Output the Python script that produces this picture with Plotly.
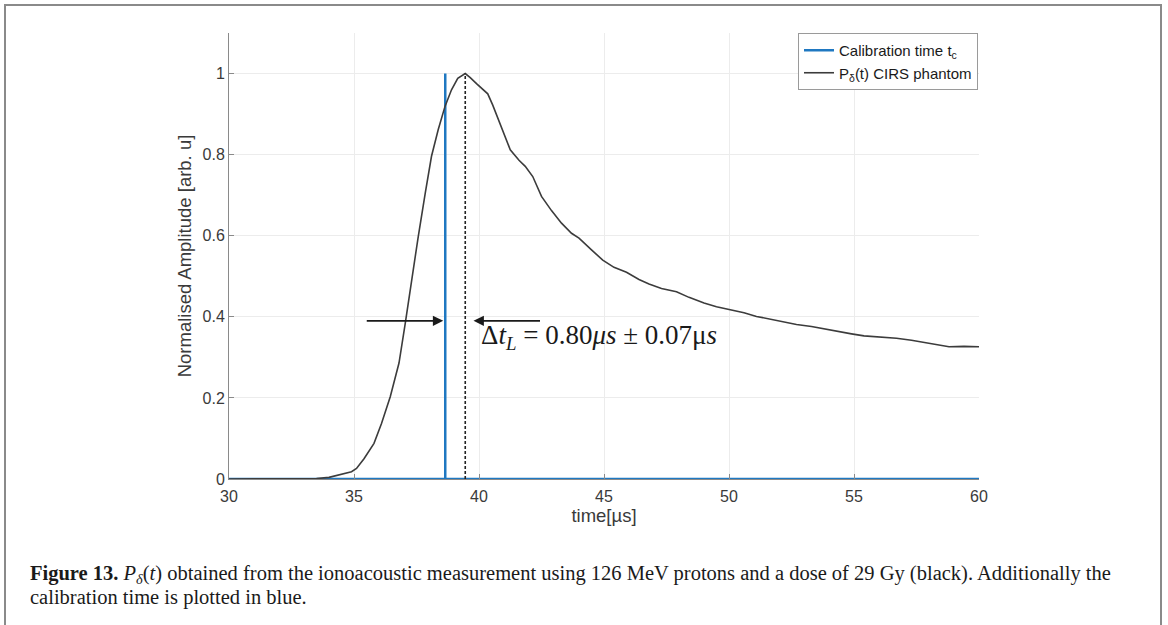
import plotly.graph_objects as go

# ---------------- data ----------------
time_us = [30, 31, 32, 33, 33.5, 34.0, 34.4, 34.9, 35.1, 35.4, 35.8, 36.1, 36.45, 36.8,
           37.05, 37.3, 37.57, 37.85, 38.1, 38.37, 38.64, 38.9, 39.15, 39.45, 39.65,
           39.9, 40.15, 40.35, 40.55, 40.9, 41.25, 41.6, 41.85, 42.15, 42.5, 42.9,
           43.3, 43.7, 44.0, 44.5, 44.95, 45.4, 45.9, 46.4, 46.8, 47.3, 47.9, 48.4,
           49.0, 49.5, 50.0, 50.6, 51.1, 51.7, 52.2, 52.7, 53.3, 53.8, 54.3, 54.9,
           55.4, 56.0, 56.7, 57.3, 57.8, 58.3, 58.8, 59.4, 60.0]
p_delta = [0, 0, 0, 0, 0.001, 0.004, 0.010, 0.018, 0.026, 0.050, 0.088, 0.137, 0.203, 0.286,
           0.384, 0.491, 0.598, 0.705, 0.796, 0.862, 0.919, 0.960, 0.988, 1.000, 0.990,
           0.975, 0.960, 0.950, 0.922, 0.865, 0.812, 0.786, 0.771, 0.746, 0.697, 0.662,
           0.631, 0.606, 0.594, 0.565, 0.540, 0.522, 0.510, 0.492, 0.481, 0.470, 0.462, 0.448,
           0.434, 0.425, 0.419, 0.410, 0.401, 0.394, 0.388, 0.381, 0.376, 0.370, 0.364, 0.358,
           0.353, 0.350, 0.347, 0.342, 0.337, 0.331, 0.326, 0.327, 0.326]

calib_time = 38.65          # t_c
calib_x = [30, calib_time, calib_time, calib_time, 60]
calib_y = [0, 0, 1, 0, 0]

peak_time = 39.45
peak_amp = 1.0
arrow_y = 0.39
delta_text = "Δ<i>t<sub>L</sub></i> = 0.80<i>μs</i> ± 0.07μ<i>s</i>"

x_ticks = [30, 35, 40, 45, 50, 55, 60]
y_ticks = [0, 0.2, 0.4, 0.6, 0.8, 1]
y_tick_labels = ["0", "0.2", "0.4", "0.6", "0.8", "1"]

caption_1 = ("<b>Figure 13.</b> <i>P<sub>δ</sub></i>(<i>t</i>) obtained from the ionoacoustic "
             "measurement using 126 MeV protons and a dose of 29 Gy (black). Additionally the")
caption_2 = "calibration time is plotted in blue."

# ---------------- layout helpers (pixel -> paper) ----------------
W, H = 1168, 625
L, R, T, B = 229, 979, 33, 479
def px(x):
    return (x - L) / (R - L)
def py(y):
    return (B - y) / (B - T)

fig = go.Figure()
fig.add_trace(go.Scatter(x=calib_x, y=calib_y, mode="lines",
                         line=dict(color="#1f78c1", width=2.5),
                         name="Calibration time t<sub>c</sub>"))
fig.add_trace(go.Scatter(x=time_us, y=p_delta, mode="lines",
                         line=dict(color="#3c3c3c", width=1.6),
                         name="P<sub>δ</sub>(t) CIRS phantom"))
fig.add_trace(go.Scatter(x=[peak_time, peak_time], y=[0, peak_amp], mode="lines",
                         line=dict(color="#222222", width=1.6, dash="3px,2px"),
                         showlegend=False))

ann = []
ann.append(dict(x=calib_time - 0.08, y=arrow_y, ax=35.45, ay=arrow_y,
                xref="x", yref="y", axref="x", ayref="y", text="",
                showarrow=True, arrowhead=2, arrowsize=1.3, arrowwidth=1.6,
                arrowcolor="#1a1a1a"))
ann.append(dict(x=peak_time + 0.33, y=arrow_y, ax=42.5, ay=arrow_y,
                xref="x", yref="y", axref="x", ayref="y", text="",
                showarrow=True, arrowhead=2, arrowsize=1.3, arrowwidth=1.6,
                arrowcolor="#1a1a1a"))
ann.append(dict(x=40.0, y=0.35, xref="x", yref="y", text=delta_text,
                showarrow=False, xanchor="left", yanchor="middle",
                font=dict(family="Liberation Serif", size=27, color="#1a1a1a")))
cap_font = dict(family="Liberation Serif", size=20.5, color="#1a1a1a")
ann.append(dict(x=px(28), y=py(574), xref="paper", yref="paper", xanchor="left",
                yanchor="middle", showarrow=False, align="left",
                text=caption_1, font=cap_font))
ann.append(dict(x=px(28), y=py(597), xref="paper", yref="paper", xanchor="left",
                yanchor="middle", showarrow=False, align="left",
                text=caption_2, font=cap_font))

shapes = [dict(type="rect", xref="paper", yref="paper",
               x0=px(5), x1=px(1161), y0=py(640), y1=py(5),
               line=dict(color="#8a8a8a", width=2), fillcolor="rgba(0,0,0,0)", layer="below")]

tick_font = dict(family="Liberation Sans", size=16, color="#3a3a3a")
title_font = dict(family="Liberation Sans", size=18.5, color="#3a3a3a")
fig.update_layout(
    width=W, height=H,
    margin=dict(l=L, r=W - R, t=T, b=H - B),
    paper_bgcolor="white", plot_bgcolor="white",
    annotations=ann, shapes=shapes,
    legend=dict(x=px(978), y=1.0, xanchor="right", yanchor="top",
                bgcolor="white", bordercolor="#9a9a9a", borderwidth=1,
                font=dict(family="Liberation Sans", size=15, color="#1a1a1a"),
                itemwidth=30, tracegroupgap=0),
    xaxis=dict(range=[30, 60], tickvals=x_ticks, showgrid=True, gridcolor="#ececec",
               zeroline=False, showline=True, linecolor="#8a8a8a", linewidth=1,
               ticks="inside", ticklen=5, tickcolor="#8a8a8a", tickfont=tick_font,
               ticklabelstandoff=3,
               title=dict(text="time[µs]", font=title_font, standoff=4)),
    yaxis=dict(range=[0, 1.1], tickvals=y_ticks, ticktext=y_tick_labels, showgrid=True,
               gridcolor="#ececec", zeroline=False, showline=True, linecolor="#8a8a8a",
               linewidth=1, ticks="inside", ticklen=5, tickcolor="#8a8a8a",
               tickfont=tick_font,
               title=dict(text="Normalised Amplitude [arb. u]", font=title_font, standoff=6)),
)

fig.write_html("out.html", config={"displayModeBar": False},
               post_script="document.body.style.margin='0';")
